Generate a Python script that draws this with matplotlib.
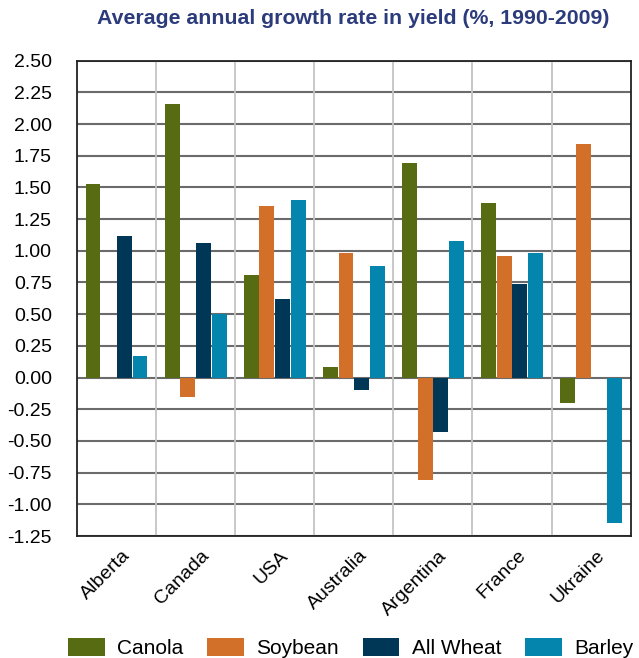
import matplotlib
matplotlib.use("Agg")
import matplotlib.pyplot as plt
import numpy as np

plt.rcParams['font.family'] = ['Liberation Sans', 'DejaVu Sans']
plt.rcParams['axes.unicode_minus'] = False

regions = ["Alberta", "Canada", "USA", "Australia", "Argentina", "France", "Ukraine"]
crops = ["Canola", "Soybean", "All Wheat", "Barley"]
canola = [1.53, 2.16, 0.81, 0.08, 1.69, 1.38, -0.20]
soybean = [0.0, -0.15, 1.35, 0.98, -0.81, 0.96, 1.84]
all_wheat = [1.12, 1.06, 0.62, -0.10, -0.43, 0.74, 0.0]
barley = [0.17, 0.50, 1.40, 0.88, 1.08, 0.98, -1.15]
colors = ["#566b12", "#d2702a", "#003756", "#0385ad"]
yticks = [2.50, 2.25, 2.00, 1.75, 1.50, 1.25, 1.00, 0.75, 0.50, 0.25, 0.00,
          -0.25, -0.50, -0.75, -1.00, -1.25]

fig = plt.figure(figsize=(6.39, 6.58), dpi=100)
ax = fig.add_axes([0.1205, 0.1854, 0.8665, 0.7224])

x = np.arange(len(regions))
step = 0.198
width = 0.188
series = [canola, soybean, all_wheat, barley]
for i, (name, vals, c) in enumerate(zip(crops, series, colors)):
    ax.bar(x + (i - 1.5) * step, vals, width=width, color=c, label=name, zorder=3)

ax.set_xlim(-0.5, len(regions) - 0.5)
ax.set_ylim(-1.25, 2.5)
ax.set_yticks(yticks)
ax.set_yticklabels([f"{v:.2f}" for v in yticks], fontsize=14)
ax.set_xticks(x)
ax.set_xticklabels([])
for xi, name in zip(x, regions):
    ax.annotate(name, xy=(xi, 0), xycoords=ax.get_xaxis_transform(),
                xytext=(3.8, -8), textcoords='offset points',
                rotation=45, rotation_mode='anchor', ha='right', va='top',
                fontsize=14)
ax.set_xticks(np.arange(0.5, len(regions) - 0.5, 1), minor=True)
ax.tick_params(axis='both', which='both', length=0)
ax.tick_params(axis='y', pad=18)

for v in yticks:
    ax.axhline(v, color="#6b6b6b", lw=1.5, zorder=1)
ax.grid(axis='x', which='minor', color="#c4c4c4", lw=1.3, zorder=1)
for s in ax.spines.values():
    s.set_color("#222222")
    s.set_linewidth(1.3)
    s.set_zorder(4)

fig.text(0.553, 0.972, "Average annual growth rate in yield (%, 1990-2009)",
         ha='center', va='center', fontsize=15.3, fontweight='bold', color="#2b3b7b")

fig.legend(loc='lower center', bbox_to_anchor=(0.549, -0.029), ncol=4, frameon=False,
           fontsize=15, handlelength=1.75, handleheight=0.95, handletextpad=0.6,
           columnspacing=1.15)

fig.savefig("out.png", dpi=100)
